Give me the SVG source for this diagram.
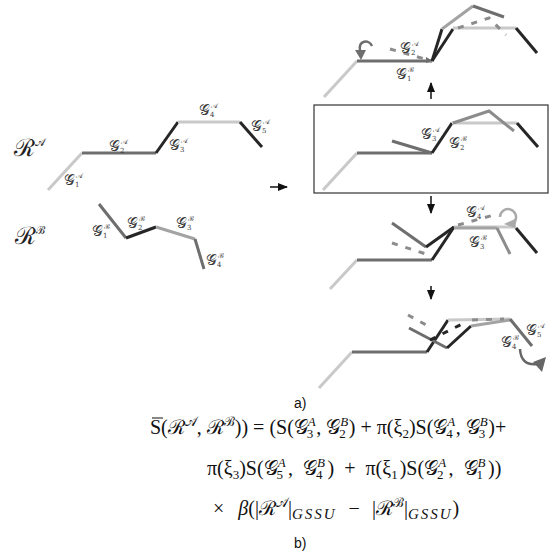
<svg xmlns="http://www.w3.org/2000/svg" width="553" height="556" viewBox="0 0 553 556">
<style>
.s{fill:none;stroke-width:3;stroke-linecap:butt;stroke-linejoin:miter}
.L{stroke:#c9c9c9}.M{stroke:#6e6e6e}.D{stroke:#262626}.G{stroke:#8c8c8c}.Q{stroke:#a3a3a3}
.dash{stroke-dasharray:6 8}
.lab{font-family:"DejaVu Serif","Liberation Serif",serif;font-size:15px;fill:#3a3a3a}
.lab .sb{font-size:7px}
.big{font-family:"DejaVu Serif","Liberation Serif",serif;font-size:24px;fill:#222}
.f{font-family:"Liberation Serif","DejaVu Serif",serif;font-size:20px;fill:#111}
.f .sc{font-size:13px}
.cap{font-family:"Liberation Sans",Arial,sans-serif;font-size:14px;fill:#111}
.ar{stroke:#111;stroke-width:1.5;fill:none}
</style>
<defs>
<marker id="ah" viewBox="0 0 10 10" refX="9" refY="5" markerWidth="7" markerHeight="7" orient="auto"><path d="M0,1 L10,5 L0,9 z" fill="#111"/></marker>
</defs>

<g id="connectors">
<line class="ar" x1="270" y1="187" x2="287" y2="187" marker-end="url(#ah)"/>
<line class="ar" x1="431" y1="99" x2="431" y2="83" marker-end="url(#ah)"/>
<line class="ar" x1="431" y1="196" x2="431" y2="213" marker-end="url(#ah)"/>
<line class="ar" x1="431" y1="286" x2="431" y2="299" marker-end="url(#ah)"/>
</g>

<g id="RA">
<text class="big" x="14" y="156">ℛ<tspan font-size="11" dy="-10">𝒜</tspan></text>
<polyline class="s L" points="48,190 82,153"/>
<polyline class="s M" points="82,153 156,153"/>
<polyline class="s D" points="156,153 178,122"/>
<polyline class="s L" points="178,122 240,122"/>
<polyline class="s D" points="240,122 262,147"/>
<text class="lab" x="64" y="185">𝒢<tspan class="sb" dy="2">1</tspan><tspan class="sb" dx="-3" dy="-9">𝒜</tspan></text>
<text class="lab" x="109" y="151">𝒢<tspan class="sb" dy="2">2</tspan><tspan class="sb" dx="-3" dy="-9">𝒜</tspan></text>
<text class="lab" x="169" y="150">𝒢<tspan class="sb" dy="2">3</tspan><tspan class="sb" dx="-3" dy="-9">𝒜</tspan></text>
<text class="lab" x="199" y="115">𝒢<tspan class="sb" dy="2">4</tspan><tspan class="sb" dx="-3" dy="-9">𝒜</tspan></text>
<text class="lab" x="251" y="131">𝒢<tspan class="sb" dy="2">5</tspan><tspan class="sb" dx="-3" dy="-9">𝒜</tspan></text>
</g>

<g id="RB">
<text class="big" x="15" y="244">ℛ<tspan font-size="11" dy="-10">ℬ</tspan></text>
<polyline class="s M" points="99,204 126,238"/>
<polyline class="s D" points="126,238 156,227"/>
<polyline class="s Q" points="156,227 195,239"/>
<polyline class="s M" points="195,239 204,269"/>
<text class="lab" x="92" y="236">𝒢<tspan class="sb" dy="2">1</tspan><tspan class="sb" dx="-3" dy="-9">ℬ</tspan></text>
<text class="lab" x="127" y="228">𝒢<tspan class="sb" dy="2">2</tspan><tspan class="sb" dx="-3" dy="-9">ℬ</tspan></text>
<text class="lab" x="176" y="228">𝒢<tspan class="sb" dy="2">3</tspan><tspan class="sb" dx="-3" dy="-9">ℬ</tspan></text>
<text class="lab" x="206" y="265">𝒢<tspan class="sb" dy="2">4</tspan><tspan class="sb" dx="-3" dy="-9">ℬ</tspan></text>
</g>

<g id="step1">
<polyline class="s L" points="324,97 357,61"/>
<polyline class="s M" points="357,61 432,61"/>
<path d="M426,57 L433,61 L426,63 z" fill="#6e6e6e"/>
<polyline class="s G dash" points="390,49 432,61"/>
<path d="M372,46 C369,39 358,40 360,51" fill="none" stroke="#6e6e6e" stroke-width="2.5"/>
<path d="M355,50 L366,50 L361,60 z" fill="#6e6e6e"/>
<polyline class="s D" points="432,61 442,29"/>
<polyline class="s D" points="432,61 453,29"/>
<polyline class="s L" points="453,28 516,28"/>
<polyline class="s D" points="516,28 537,53"/>
<polyline class="s Q" points="442,29 473,6"/>
<polyline class="s M" points="473,6 504,17"/>
<polyline class="s G dash" points="458,28 489,18 506,35"/>
<text class="lab" x="400" y="53">𝒢<tspan class="sb" dy="2">2</tspan><tspan class="sb" dx="-3" dy="-9">𝒜</tspan></text>
<text class="lab" x="396" y="79">𝒢<tspan class="sb" dy="2">1</tspan><tspan class="sb" dx="-3" dy="-9">ℬ</tspan></text>
</g>

<g id="step0">
<rect x="314" y="105" width="234" height="88" fill="none" stroke="#333" stroke-width="1.2"/>
<polyline class="s L" points="323,190 357,153"/>
<polyline class="s M" points="357,153 432,153"/>
<polyline class="s M" points="392,141 432,153"/>
<polyline class="s D" points="432,153 452,123"/>
<polyline class="s L" points="452,123 517,123"/>
<polyline class="s G" points="453,123 489,111 514,131"/>
<polyline class="s D" points="517,123 538,147"/>
<text class="lab" x="421" y="139">𝒢<tspan class="sb" dy="2">3</tspan><tspan class="sb" dx="-3" dy="-9">𝒜</tspan></text>
<text class="lab" x="449" y="148">𝒢<tspan class="sb" dy="2">2</tspan><tspan class="sb" dx="-3" dy="-9">ℬ</tspan></text>
</g>

<g id="step2">
<polyline class="s L" points="330,289 357,260"/>
<polyline class="s M" points="357,260 432,260"/>
<polyline class="s D" points="432,260 454,227"/>
<polyline class="s M" points="392,223 426,247"/>
<polyline class="s D" points="426,247 454,227"/>
<polyline class="s G dash" points="392,243 432,256"/>
<polyline class="s L" points="454,227 516,227"/>
<polyline class="s Q" points="454,228 497,228"/>
<polyline class="s G" points="497,228 510,254"/>
<polyline class="s D" points="516,228 537,253"/>
<polyline class="s G dash" points="458,225 494,215"/>
<path d="M500,217 A8,8 0 1,1 515,221" fill="none" stroke="#aaa" stroke-width="2.5"/>
<path d="M517,218 L504,224 L515,228 z" fill="#aaa"/>
<text class="lab" x="466" y="217">𝒢<tspan class="sb" dy="2">4</tspan><tspan class="sb" dx="-3" dy="-9">𝒜</tspan></text>
<text class="lab" x="469" y="247">𝒢<tspan class="sb" dy="2">3</tspan><tspan class="sb" dx="-3" dy="-9">ℬ</tspan></text>
</g>

<g id="step3">
<polyline class="s L" points="319,388 352,352"/>
<polyline class="s M" points="352,352 427,352"/>
<polyline class="s D" points="427,352 448,320"/>
<polyline class="s L" points="448,320 510,319"/>
<polyline class="s M" points="409,328 447,348"/>
<polyline class="s D" points="447,348 471,326"/>
<polyline class="s Q" points="471,326 510,320"/>
<polyline class="s G dash" points="408,315 428,326"/>
<polyline class="s D dash" points="430,340 466,322"/>
<polyline class="s G dash" points="472,320 504,319"/>
<polyline class="s M" points="510,319 532,346"/>
<path d="M520,349 Q521,366 537,364" fill="none" stroke="#666" stroke-width="2.5"/>
<path d="M546,357 L533,362 L542,372 z" fill="#666"/>
<text class="lab" x="526" y="335">𝒢<tspan class="sb" dy="2">5</tspan><tspan class="sb" dx="-3" dy="-9">𝒜</tspan></text>
<text class="lab" x="501" y="347">𝒢<tspan class="sb" dy="2">4</tspan><tspan class="sb" dx="-3" dy="-9">ℬ</tspan></text>
</g>

<text class="cap" x="294" y="408">a)</text>

<g id="formula">
<line x1="152" y1="418" x2="163" y2="418" stroke="#111" stroke-width="1"/>
<text class="f" x="150" y="434">S(ℛ<tspan class="sc" dy="-8">𝒜</tspan><tspan dy="8">, ℛ</tspan><tspan class="sc" dy="-8">ℬ</tspan><tspan dy="8">)) = (S(𝒢</tspan><tspan class="sc" dy="-8" font-style="italic">A</tspan><tspan class="sc" dx="-9" dy="12">3</tspan><tspan dx="3" dy="-4">, 𝒢</tspan><tspan class="sc" dy="-8" font-style="italic">B</tspan><tspan class="sc" dx="-9" dy="12">2</tspan><tspan dx="3" dy="-4">) + π(ξ</tspan><tspan class="sc" dy="4">2</tspan><tspan dy="-4">)S(𝒢</tspan><tspan class="sc" dy="-8" font-style="italic">A</tspan><tspan class="sc" dx="-9" dy="12">4</tspan><tspan dx="3" dy="-4">, 𝒢</tspan><tspan class="sc" dy="-8" font-style="italic">B</tspan><tspan class="sc" dx="-9" dy="12">3</tspan><tspan dx="3" dy="-4">)+</tspan></text>
<text class="f" x="207" y="475" word-spacing="5">π(ξ<tspan class="sc" dy="4">3</tspan><tspan dy="-4">)S(𝒢</tspan><tspan class="sc" dy="-8" font-style="italic">A</tspan><tspan class="sc" dx="-9" dy="12">5</tspan><tspan dx="5" dy="-4">, 𝒢</tspan><tspan class="sc" dy="-8" font-style="italic">B</tspan><tspan class="sc" dx="-9" dy="12">4</tspan><tspan dx="5" dy="-4">) + π(ξ</tspan><tspan class="sc" dy="4">1</tspan><tspan dx="2" dy="-4">)S(𝒢</tspan><tspan class="sc" dy="-8" font-style="italic">A</tspan><tspan class="sc" dx="-9" dy="12">2</tspan><tspan dx="5" dy="-4">, 𝒢</tspan><tspan class="sc" dy="-8" font-style="italic">B</tspan><tspan class="sc" dx="-9" dy="12">1</tspan><tspan dx="5" dy="-4">))</tspan></text>
<text class="f" x="213" y="515" word-spacing="7">× <tspan font-style="italic" dx="2">β</tspan>(|ℛ<tspan class="sc" dy="-8">𝒜</tspan><tspan dy="8">|</tspan><tspan font-size="15" dy="4" font-style="italic" letter-spacing="2">GSSU</tspan><tspan dy="-4"> − |ℛ</tspan><tspan class="sc" dy="-8">ℬ</tspan><tspan dy="8">|</tspan><tspan font-size="15" dy="4" font-style="italic" letter-spacing="2">GSSU</tspan><tspan dy="-4">)</tspan></text>
</g>
<text class="cap" x="294" y="548">b)</text>
</svg>
